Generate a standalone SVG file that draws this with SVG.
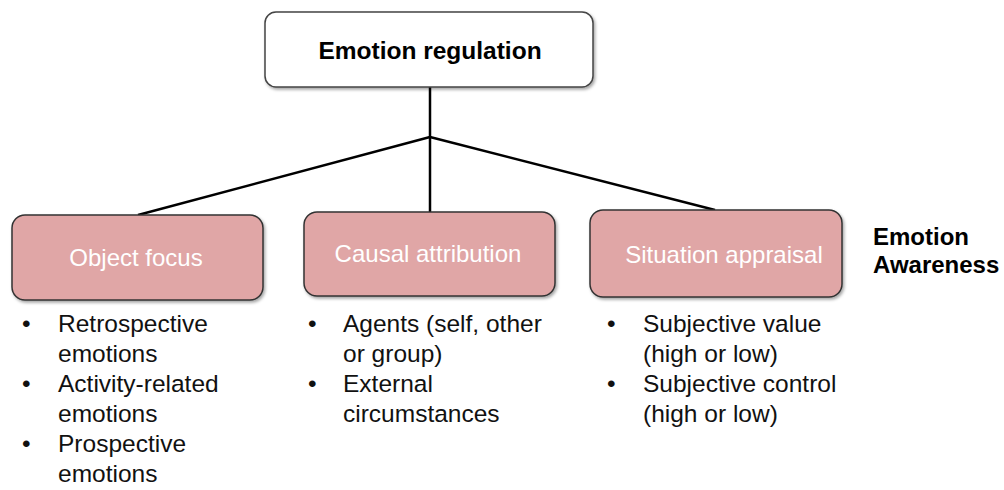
<svg xmlns="http://www.w3.org/2000/svg" width="1004" height="490" viewBox="0 0 1004 490">
<defs>
<filter id="sh" x="-10%" y="-10%" width="130%" height="130%">
<feDropShadow dx="1.5" dy="2" stdDeviation="1.5" flood-color="#000" flood-opacity="0.35"/>
</filter>
<style>
.root{fill:#fff;stroke:#444;stroke-width:1.5}
.cat{fill:#e0a6a6;stroke:#333;stroke-width:1.5}
.ct{font-family:"Liberation Sans",Arial,sans-serif;font-size:24px;fill:#fff;text-anchor:middle}
.bt{font-family:"Liberation Sans",Arial,sans-serif;font-size:24px;font-weight:bold;fill:#000}
.li{font-family:"Liberation Sans",Arial,sans-serif;font-size:24.5px;fill:#111}
.conn{stroke:#000;stroke-width:2.5;fill:none}
</style>
</defs>
<rect width="1004" height="490" fill="#fff"/>
<g id="connectors">
<line class="conn" x1="430" y1="87" x2="430" y2="212"/>
<line class="conn" x1="430" y1="137" x2="138" y2="215"/>
<line class="conn" x1="430" y1="137" x2="715" y2="210"/>
</g>
<g id="emotion-regulation">
<rect class="root" x="265" y="12" width="328" height="75" rx="11" filter="url(#sh)"/>
<text class="bt" x="430" y="59" text-anchor="middle" style="font-size:24.5px">Emotion regulation</text>
</g>
<g id="object-focus">
<rect class="cat" x="12" y="215" width="251" height="85" rx="13" filter="url(#sh)"/>
<text class="ct" x="136" y="266">Object focus</text>
</g>
<g id="causal-attribution">
<rect class="cat" x="304" y="212" width="251" height="84" rx="13" filter="url(#sh)"/>
<text class="ct" x="428" y="262">Causal attribution</text>
</g>
<g id="situation-appraisal">
<rect class="cat" x="590" y="210" width="252" height="87" rx="13" filter="url(#sh)"/>
<text class="ct" x="724" y="263">Situation appraisal</text>
</g>
<g id="emotion-awareness">
<text class="bt" x="873" y="245">Emotion</text>
<text class="bt" x="873" y="273">Awareness</text>
</g>
<g id="object-focus-list">
<text class="li" x="22" y="332">•</text>
<text class="li" x="58" y="332">Retrospective</text>
<text class="li" x="58" y="362">emotions</text>
<text class="li" x="22" y="392">•</text>
<text class="li" x="58" y="392">Activity-related</text>
<text class="li" x="58" y="422">emotions</text>
<text class="li" x="22" y="452">•</text>
<text class="li" x="58" y="452">Prospective</text>
<text class="li" x="58" y="482">emotions</text>
</g>
<g id="causal-attribution-list">
<text class="li" x="308" y="332">•</text>
<text class="li" x="343" y="332">Agents (self, other</text>
<text class="li" x="343" y="362">or group)</text>
<text class="li" x="308" y="392">•</text>
<text class="li" x="343" y="392">External</text>
<text class="li" x="343" y="422">circumstances</text>
</g>
<g id="situation-appraisal-list">
<text class="li" x="607" y="332">•</text>
<text class="li" x="643" y="332">Subjective value</text>
<text class="li" x="643" y="362">(high or low)</text>
<text class="li" x="607" y="392">•</text>
<text class="li" x="643" y="392">Subjective control</text>
<text class="li" x="643" y="422">(high or low)</text>
</g>
</svg>
